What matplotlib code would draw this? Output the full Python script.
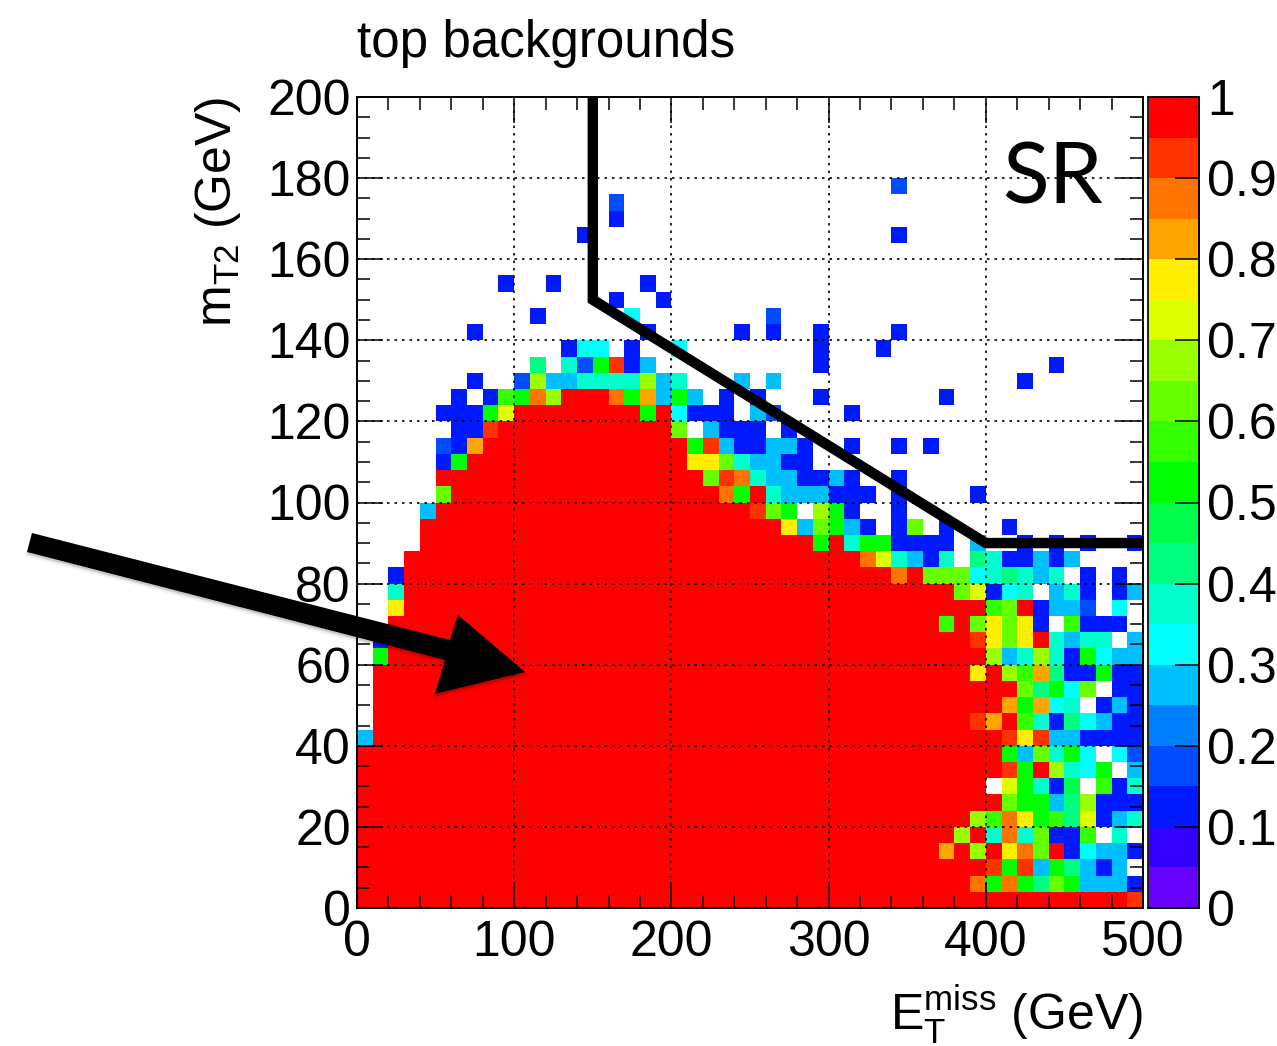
import numpy as np
import matplotlib
matplotlib.use('Agg')
import matplotlib.pyplot as plt
from matplotlib.colors import ListedColormap, BoundaryNorm
from matplotlib.patches import Polygon
from matplotlib.ticker import MultipleLocator
from matplotlib.transforms import Affine2D

plt.rcParams['font.family'] = ['Liberation Sans', 'DejaVu Sans']
plt.rcParams['mathtext.fontset'] = 'custom'
plt.rcParams['mathtext.rm'] = 'Liberation Sans'

# one colour per z level, bottom of the palette first
palette = ['#6600ff', '#3300ff', '#0019ff', '#004dff', '#0080ff', '#00bfff', '#00ffff',
           '#00ffcc', '#00ff80', '#00ff4d', '#00ff00', '#33ff00', '#66ff00', '#99ff00',
           '#ddff00', '#ffee00', '#ffa500', '#ff7300', '#ff3300', '#ff0000']
level_codes = 'abcdefghijklmnopqrst'  # a = 0-0.05 ... t = 0.95-1, '.' = empty bin

# each mT2 row (4 GeV bins, from the bottom): empty bins, cells, bins at z=1, cells
row_blank = [0, 0, 0, 0, 0, 0, 0, 0, 0, 0,
             0, 1, 1, 1, 1, 1, 1, 2, 2, 2,
             2, 3, 4, 4, 4, 5, 5, 5, 5, 6,
             5, 6, 7, 11, 13, 7, 11, 16, 9, 50,
             50, 14, 16, 16, 34]
row_head = ['', '', '', '', '', '', '', '', '', '',
            'f', '', '', '', '', 'k', 'c', '', 'p', 'h',
            'c', '', '', '', 'f', 'm', '', 'ck', 'dcq', 'ccs',
            'ccck' 'o', 'c.clkrn', '', '', '', '', '', '', '', '',
            '', '', '', '', '']
row_red = [49, 39, 40, 37, 38, 39, 41, 40, 41, 41,
           40, 38, 40, 41, 38, 38, 37, 35, 37, 35,
           31, 29, 25, 23, 20, 17, 17, 14, 13, 11,
           8, 3, 0, 0, 0, 0, 0, 0, 0, 0,
           0, 0, 0, 0, 0]
row_tail = ['s',
            'rkrkimkfffc',
            'sksfkifcf.',
            'qtntprmtcgffc',
            'nthrhmccl.h.',
            'nlrpkliocfh',
            'mkkfinccc',
            '.okhcj.lch',
            'sktnhgk.f',
            'kfmhkg.gd',
            'spsffcccc',
            'sqtlhcigfcc',
            'qkqgh.cfc',
            'mikgm.cc',
            'ptnlqicckcc',
            'nfhnhckgff',
            'spmpthfhh.f',
            'ltmpmpc.lccc.',
            'lmtcffd.g.',
            'mocgh.fhc.cf',
            'rtmmmghihfh.c.c.',
            'rohfch.ihccfcf',
            'kthkkcccc.f..c.c.c..c',
            'pfmkfc.cm.c...c',
            'smk.nkc..c',
            'rkthfffccc.c....c',
            'msrhffccfc..c',
            'ppmhffcc',
            'ksfccffc..c..c.c',
            'm.fccc.c',
            'ktgccc.fd....c',
            'rkqfkf.c.c...c.......c',
            'c..dnffhhhhnfh...f.f...............c',
            'i.hdkscf..........c..............c',
            'cgg.c..g........c...c',
            'c..........c.....c.c..c....c',
            'c.....g........d',
            'c..c',
            'c..c.....c',
            '',
            '',
            'c...................c',
            'c',
            'd',
            'd']

n_bins = 50
met_edges = np.linspace(0, 500, n_bins + 1)
mt2_edges = np.linspace(0, 200, n_bins + 1)

z = np.full((n_bins, n_bins), np.nan)
for j in range(len(row_blank)):
    cells = '.' * row_blank[j] + row_head[j] + 't' * row_red[j] + row_tail[j]
    assert len(cells) <= n_bins, j
    for i, c in enumerate(cells):
        if c != '.':
            z[j, i] = (level_codes.index(c) + 0.5) / len(level_codes)

# signal region boundary drawn by hand on the plot
sr_met = [150, 150, 400, 500]
sr_mt2 = [200, 150, 90, 90]

W, H = 1277, 1046
fig = plt.figure(figsize=(W / 100, H / 100), dpi=100)
ax = fig.add_axes([357 / W, 1 - 908 / H, 786 / W, 811 / H])

cmap = ListedColormap(palette)
norm = BoundaryNorm(np.linspace(0, 1, len(palette) + 1), len(palette))
mesh = ax.pcolormesh(met_edges, mt2_edges, np.ma.masked_invalid(z), cmap=cmap, norm=norm,
                     antialiased=False, linewidth=0)

ax.set_xlim(0, 500)
ax.set_ylim(0, 200)
ax.xaxis.set_major_locator(MultipleLocator(100))
ax.xaxis.set_minor_locator(MultipleLocator(20))
ax.yaxis.set_major_locator(MultipleLocator(20))
ax.yaxis.set_minor_locator(MultipleLocator(5))
ax.set_axisbelow(False)
ax.grid(True, which='major', color='black', linewidth=1.2, linestyle=(0, (1.5, 3)))
ax.tick_params(which='major', direction='in', top=True, right=True, length=19, width=1.1, labelsize=36)
ax.tick_params(which='minor', direction='in', top=True, right=True, length=9.5, width=1.1)
ax.tick_params(axis='x', which='major', pad=8.5)
ax.tick_params(axis='y', which='major', pad=4.5)
for s in ax.spines.values():
    s.set_linewidth(1.4)

ax.plot(sr_met, sr_mt2, color='black', linewidth=7.5, solid_joinstyle='miter',
        solid_capstyle='butt', zorder=6, clip_on=False)

ax.set_title('top backgrounds', loc='left', fontsize=36.8, pad=28.5)
ax.set_ylabel(r'm$_{\mathrm{T2}}$ (GeV)', fontsize=36, loc='top')
ax.yaxis.set_label_coords((243 - 357) / 786, 1.0)
ax.set_xlabel(r'E$_{\mathrm{T}}^{\mathrm{miss}}$ (GeV)', fontsize=36, loc='right', va='baseline')
ax.xaxis.set_label_coords(1.0, -(1031 - 908) / 811)
ax.text(1052 / W, 1 - 179 / H, 'SR', transform=fig.transFigure, family='Lato', fontsize=62,
        ha='center', va='center', zorder=7)

cax = fig.add_axes([1148 / W, 1 - 908 / H, 51 / W, 811 / H])
cb = fig.colorbar(mesh, cax=cax, spacing='proportional', drawedges=False)
cb.set_ticks(np.arange(0, 1.01, 0.1))
cb.set_ticklabels(['0', '0.1', '0.2', '0.3', '0.4', '0.5', '0.6', '0.7', '0.8', '0.9', '1'])
cb.minorticks_off()
cax.tick_params(direction='in', length=17.5, width=1.1, labelsize=36, pad=6)
cb.outline.set_visible(False)
for name, s in cax.spines.items():
    s.set_visible(True)
    s.set_linewidth(1.1)
    s.set_edgecolor('#999999' if name == 'left' else 'black')

# big arrow pasted over the plot, given in image pixels
to_fig = Affine2D().scale(1 / W, -1 / H).translate(0, 1) + fig.transFigure
arrow = [(32, 533), (450, 640), (458, 615), (525, 672), (435, 694), (445, 660), (27, 552)]
for off, a in [(3, 0.05), (1.5, 0.08)]:
    shadow = [(x + off * 0.3, y + off) for x, y in arrow]
    fig.add_artist(Polygon(shadow, closed=True, color='black', alpha=a, lw=off,
                           transform=to_fig, zorder=9))
fig.add_artist(Polygon(arrow, closed=True, color='black', lw=0, transform=to_fig, zorder=10))

fig.savefig('out.png', dpi=100)
